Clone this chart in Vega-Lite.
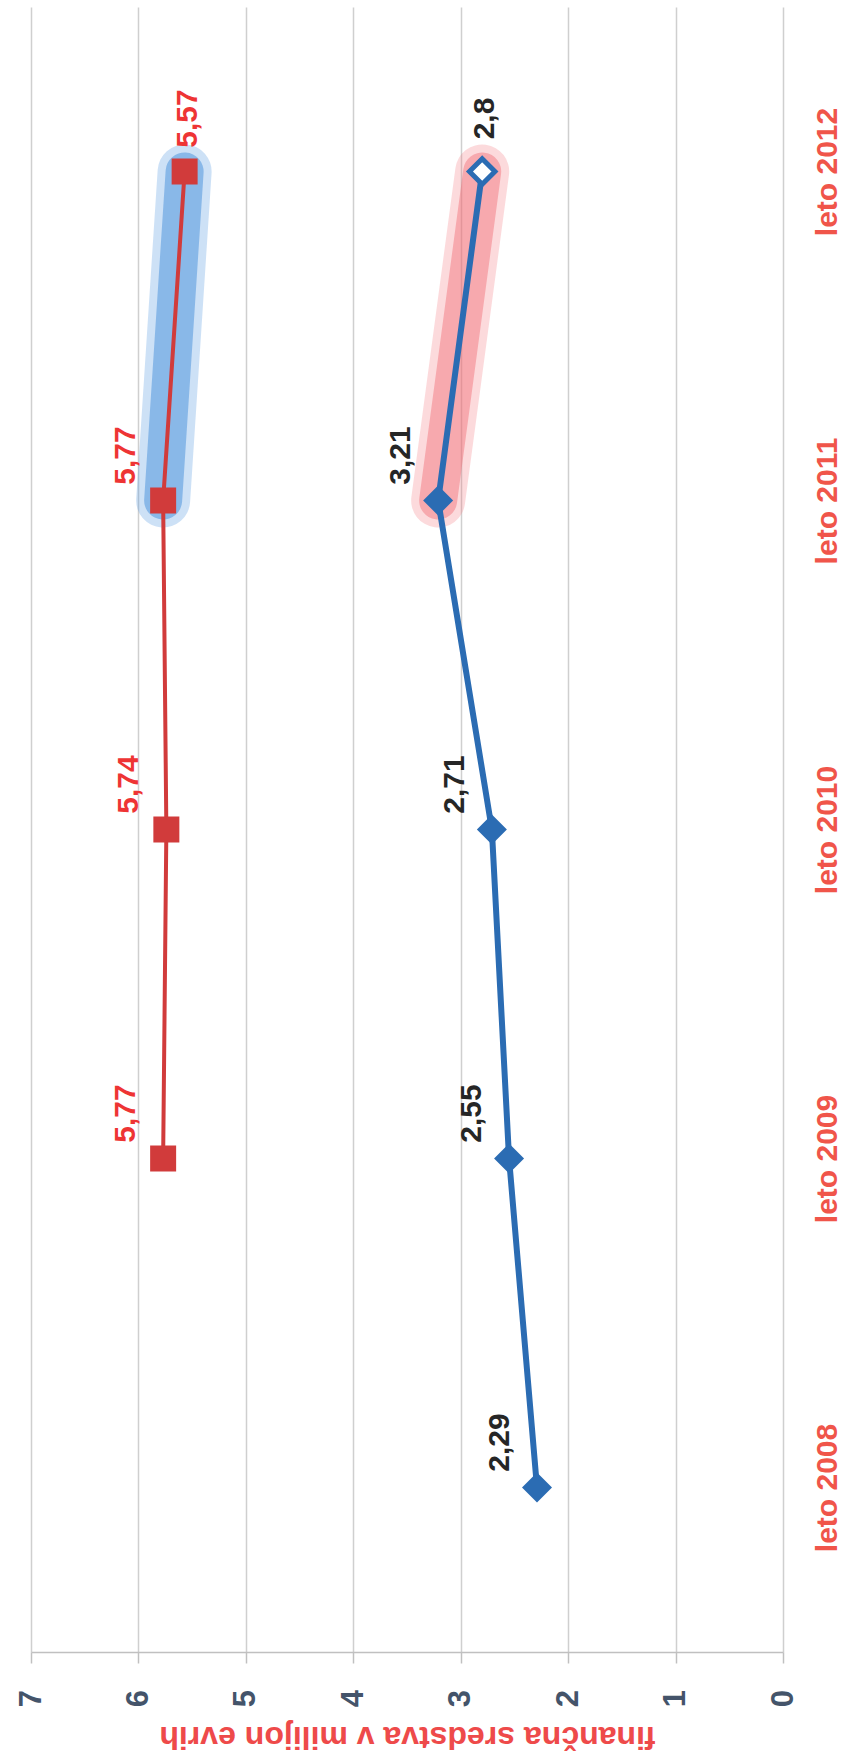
{
  "$schema": "https://vega.github.io/schema/vega-lite/v6.json",
  "width": 752,
  "height": 1645,
  "autosize": {"type": "none"},
  "padding": {"left": 31, "top": 7, "right": 60, "bottom": 111},
  "background": "white",
  "config": {"view": {"stroke": null}, "font": "Liberation Sans"},
  "data": {
    "values": [
      {"year": "leto 2009", "series": "A", "value": 5.77, "label": "5,77"},
      {"year": "leto 2010", "series": "A", "value": 5.74, "label": "5,74"},
      {"year": "leto 2011", "series": "A", "value": 5.77, "label": "5,77"},
      {"year": "leto 2012", "series": "A", "value": 5.57, "label": "5,57"},
      {"year": "leto 2008", "series": "B", "value": 2.29, "label": "2,29"},
      {"year": "leto 2009", "series": "B", "value": 2.55, "label": "2,55"},
      {"year": "leto 2010", "series": "B", "value": 2.71, "label": "2,71"},
      {"year": "leto 2011", "series": "B", "value": 3.21, "label": "3,21"},
      {"year": "leto 2012", "series": "B", "value": 2.8, "label": "2,8"}
    ]
  },
  "encoding": {
    "y": {
      "field": "year",
      "type": "nominal",
      "sort": ["leto 2012", "leto 2011", "leto 2010", "leto 2009", "leto 2008"],
      "scale": {"type": "point", "padding": 0.5},
      "axis": {
        "orient": "right",
        "title": null,
        "domain": false,
        "ticks": false,
        "tickSize": 0,
        "grid": false,
        "labelAngle": 270,
        "labelAlign": "center",
        "labelBaseline": "middle",
        "labelPadding": 44,
        "labelFont": "Liberation Sans",
        "labelFontSize": 30,
        "labelFontWeight": "bold",
        "labelColor": "#f0554a"
      }
    },
    "x": {
      "field": "value",
      "type": "quantitative",
      "scale": {"domain": [0, 7], "reverse": true, "nice": false},
      "axis": {
        "orient": "bottom",
        "values": [0, 1, 2, 3, 4, 5, 6, 7],
        "grid": true,
        "gridColor": "#cfcfcf",
        "gridWidth": 1.5,
        "domain": true,
        "domainColor": "#c0c0c0",
        "domainWidth": 1.5,
        "ticks": true,
        "tickColor": "#c0c0c0",
        "tickWidth": 1.5,
        "tickSize": 11,
        "labelAngle": 270,
        "labelAlign": "center",
        "labelBaseline": "middle",
        "labelPadding": 35,
        "labelFlush": false,
        "labelOverlap": false,
        "labelFont": "Liberation Sans",
        "labelFontSize": 31,
        "labelFontWeight": "bold",
        "labelColor": "#44546a",
        "title": "finančna sredstva v milijon evrih",
        "titleAngle": 180,
        "titleY": 84,
        "titleBaseline": "middle",
        "titleFont": "Liberation Sans",
        "titleFontSize": 32,
        "titleFontWeight": "bold",
        "titleColor": "#ee4a4a"
      }
    }
  },
  "layer": [
    {
      "transform": [{"filter": "datum.series === 'A' && (datum.year === 'leto 2011' || datum.year === 'leto 2012')"}],
      "mark": {"type": "line", "color": "#5b9de0", "strokeWidth": 54, "strokeCap": "round", "opacity": 0.3}
    },
    {
      "transform": [{"filter": "datum.series === 'A' && (datum.year === 'leto 2011' || datum.year === 'leto 2012')"}],
      "mark": {"type": "line", "color": "#5b9de0", "strokeWidth": 38, "strokeCap": "round", "opacity": 0.6}
    },
    {
      "transform": [{"filter": "datum.series === 'B' && (datum.year === 'leto 2011' || datum.year === 'leto 2012')"}],
      "mark": {"type": "line", "color": "#f26d75", "strokeWidth": 54, "strokeCap": "round", "opacity": 0.25}
    },
    {
      "transform": [{"filter": "datum.series === 'B' && (datum.year === 'leto 2011' || datum.year === 'leto 2012')"}],
      "mark": {"type": "line", "color": "#f26d75", "strokeWidth": 38, "strokeCap": "round", "opacity": 0.45}
    },
    {
      "transform": [{"filter": "datum.series === 'A'"}],
      "mark": {"type": "line", "color": "#d13b3b", "strokeWidth": 4}
    },
    {
      "transform": [{"filter": "datum.series === 'B'"}],
      "mark": {"type": "line", "color": "#2b6cb3", "strokeWidth": 6}
    },
    {
      "transform": [{"filter": "datum.series === 'A'"}],
      "mark": {"type": "point", "shape": "square", "filled": true, "size": 676, "color": "#d13b3b", "opacity": 1}
    },
    {
      "transform": [{"filter": "datum.series === 'B' && datum.year !== 'leto 2012'"}],
      "mark": {"type": "point", "shape": "diamond", "filled": true, "size": 900, "color": "#2b6cb3", "opacity": 1}
    },
    {
      "transform": [{"filter": "datum.series === 'B' && datum.year === 'leto 2012'"}],
      "mark": {"type": "point", "shape": "diamond", "filled": true, "size": 650, "fill": "white", "stroke": "#2b6cb3", "strokeWidth": 5, "opacity": 1}
    },
    {
      "transform": [{"filter": "datum.year !== 'leto 2012'"}],
      "mark": {"type": "text", "angle": 270, "align": "center", "baseline": "middle", "dx": 45, "dy": -37, "font": "Liberation Sans", "fontSize": 30, "fontWeight": "bold"},
      "encoding": {
        "text": {"field": "label"},
        "color": {"field": "series", "type": "nominal", "scale": {"domain": ["A", "B"], "range": ["#ee3434", "#262626"]}, "legend": null}
      }
    },
    {
      "transform": [{"filter": "datum.year === 'leto 2012'"}],
      "mark": {"type": "text", "angle": 270, "align": "center", "baseline": "middle", "dx": 53, "dy": 3, "font": "Liberation Sans", "fontSize": 30, "fontWeight": "bold"},
      "encoding": {
        "text": {"field": "label"},
        "color": {"field": "series", "type": "nominal", "scale": {"domain": ["A", "B"], "range": ["#ee3434", "#262626"]}, "legend": null}
      }
    }
  ]
}
